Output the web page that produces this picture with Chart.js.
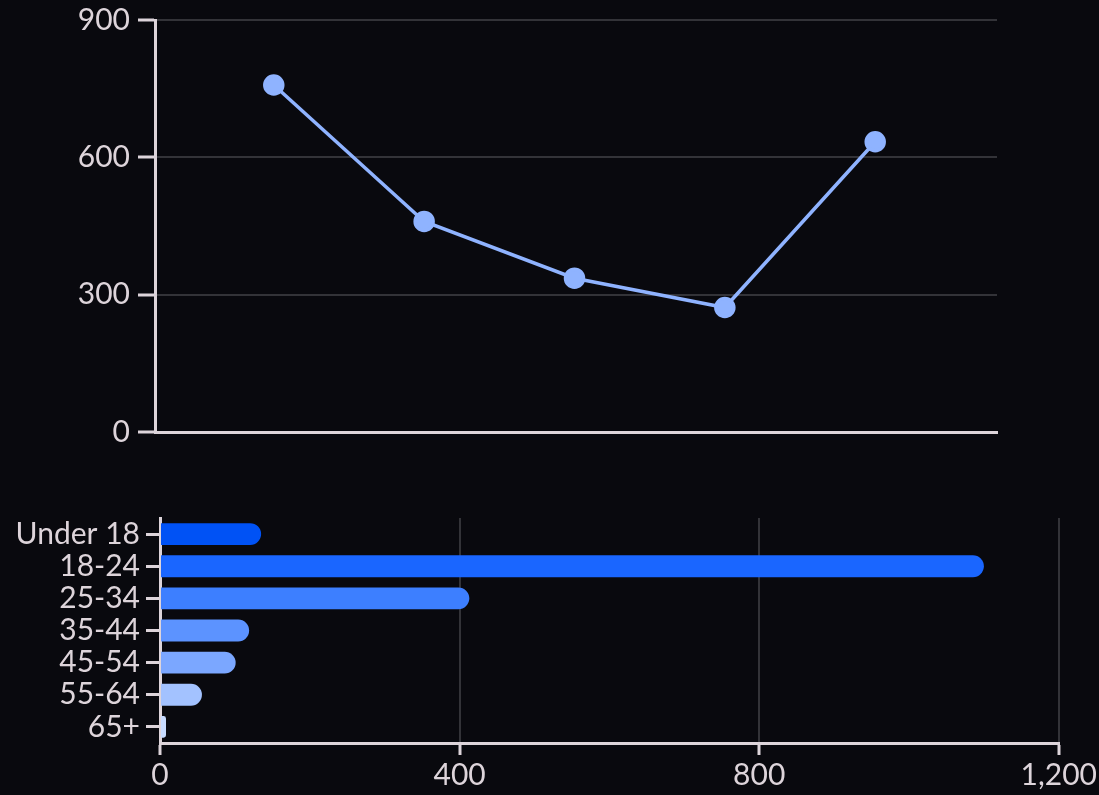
<!DOCTYPE html>
<html>
<head>
<meta charset="utf-8">
<script src="https://cdn.jsdelivr.net/npm/chart.js@4/dist/chart.umd.min.js"></script>
<style>
  html, body { margin:0; padding:0; background:#09090e; overflow:hidden; }
  #wrapTop { position:absolute; left:0; top:-6px; width:1099px; height:464px; }
  #wrapBot { position:absolute; left:0; top:494px; width:1099px; height:301px; }
</style>
</head>
<body>
<div id="wrapTop"><canvas id="lineChart"></canvas></div>
<div id="wrapBot"><canvas id="barChart"></canvas></div>
<script>
// line chart data
const linePos = [1, 2, 3, 4, 5];
const lineValues = [758, 460, 336, 272, 634];
const lineTicks = [0, 300, 600, 900];

// bar chart data
const ageGroups = ['Under 18', '18-24', '25-34', '35-44', '45-54', '55-64', '65+'];
const ageCounts = [135, 1100, 413, 119, 101, 56, 8];
const ageColors = ['#0052f5', '#1a66ff', '#3d7fff', '#5c93ff', '#7ba7ff', '#a3c2ff', '#c8dbff'];
const barTicks = [0, 400, 800, 1200];

const axisCol = '#ddd4da';
const gridCol = '#333338';
const font = { family: 'Lato', size: 30 };

Chart.defaults.color = axisCol;
Chart.defaults.font = font;
Chart.defaults.animation = false;

new Chart(document.getElementById('lineChart'), {
  type: 'line',
  data: {
    datasets: [{
      data: linePos.map((x, i) => ({ x, y: lineValues[i] })),
      borderColor: '#8fb3ff',
      backgroundColor: '#8fb3ff',
      borderWidth: 3.5,
      pointRadius: 9,
      pointHoverRadius: 9,
      tension: 0
    }]
  },
  options: {
    responsive: true,
    maintainAspectRatio: false,
    layout: { padding: { top: 0, right: 102, bottom: 0, left: 0 } },
    plugins: { legend: { display: false }, tooltip: { enabled: false } },
    scales: {
      x: {
        type: 'linear', min: 0.21, max: 5.81,
        ticks: { display: false },
        grid: { display: false },
        border: { color: axisCol, width: 3 }
      },
      y: {
        min: 0, max: 900,
        afterBuildTicks: s => { s.ticks = lineTicks.map(v => ({ value: v })); },
        afterFit: s => { s.width = 155; },
        ticks: { padding: 8, color: axisCol, font },
        grid: { color: gridCol, lineWidth: 2, tickColor: axisCol, tickLength: 17, tickWidth: 3 },
        border: { color: axisCol, width: 3 }
      }
    }
  }
});

new Chart(document.getElementById('barChart'), {
  type: 'bar',
  data: {
    labels: ageGroups,
    datasets: [{
      data: ageCounts,
      backgroundColor: ageColors,
      borderRadius: 11,
      borderSkipped: 'start',
      barPercentage: 0.85,
      categoryPercentage: 0.8
    }]
  },
  options: {
    indexAxis: 'y',
    responsive: true,
    maintainAspectRatio: false,
    layout: { padding: { top: 19, right: 39, bottom: 0, left: 0 } },
    plugins: { legend: { display: false }, tooltip: { enabled: false } },
    scales: {
      x: {
        min: 0, max: 1200,
        afterBuildTicks: s => { s.ticks = barTicks.map(v => ({ value: v })); },
        ticks: { padding: 2, color: axisCol, font },
        grid: { color: gridCol, lineWidth: 2, tickColor: axisCol, tickLength: 12, tickWidth: 3 },
        border: { color: axisCol, width: 3 }
      },
      y: {
        afterFit: s => { s.width = 160; },
        ticks: { padding: 6, color: axisCol, font, autoSkip: false },
        grid: { display: true, offset: false, drawOnChartArea: false, tickColor: axisCol, tickLength: 14, tickWidth: 3 },
        border: { color: axisCol, width: 3 }
      }
    }
  }
});
</script>
</body>
</html>
